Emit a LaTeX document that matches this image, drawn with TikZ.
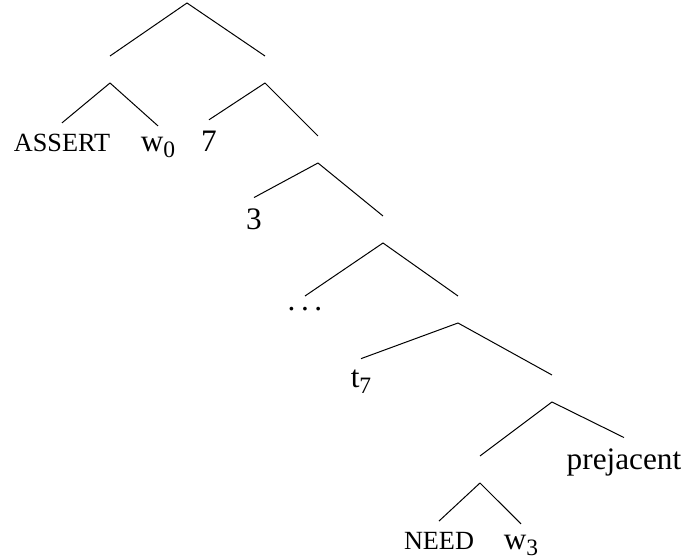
\documentclass[tikz,border=0pt]{standalone}
\usepackage{fontspec}
\setmainfont{Liberation Serif}
\newcommand\treesub[1]{\raisebox{-0.35ex}{\fontsize{9.4}{10}\selectfont #1}}

\begin{document}
\begin{tikzpicture}[x=0.4pt, y=-0.4pt, font=\fontsize{12.5}{15}\selectfont,
    inner/.style={inner sep=0pt, minimum height=10.4pt, anchor=south},
    leaf/.style={anchor=base, inner xsep=1pt, inner ysep=4.5pt},
    sc/.style={font=\fontsize{10.5}{12}\selectfont}]
  \useasboundingbox (0,0) rectangle (682,559);

  % branching points (empty, anchored at the apex)
  \node[inner] (R) at (187,3)   {};
  \node[inner] (A) at (110,83)  {};
  \node[inner] (B) at (265,83)  {};
  \node[inner] (C) at (318,163) {};
  \node[inner] (D) at (383,243) {};
  \node[inner] (E) at (458,323) {};
  \node[inner] (F) at (552,402) {};
  \node[inner] (G) at (480,483) {};

  % leaves
  \node[leaf, sc] (assert) at (62,152)  {ASSERT};
  \node[leaf] (w0)     at (158,152) {w\treesub{0}};
  \node[leaf] (seven)  at (209,152) {7};
  \node[leaf] (three)  at (254,230) {3};
  \node[leaf] (dots)   at (305,311) {.\kern.18em.\kern.18em.};
  \node[leaf] (t7)     at (361,388) {t\treesub{7}};
  \node[leaf] (prej)   at (624,470) {prejacent};
  \node[leaf, sc] (need) at (439,550) {NEED};
  \node[leaf] (w3)     at (521,550) {w\treesub{3}};

  \path
    (R.south) edge (A.north)
              edge (B.north)
    (A.south) edge (assert.north)
              edge (w0.north)
    (B.south) edge (seven.north)
              edge (C.north)
    (C.south) edge (three.north)
              edge (D.north)
    (D.south) edge (dots.north)
              edge (E.north)
    (E.south) edge (t7.north)
              edge (F.north)
    (F.south) edge (G.north)
              edge (prej.north)
    (G.south) edge (need.north)
              edge (w3.north);
\end{tikzpicture}
\end{document}
